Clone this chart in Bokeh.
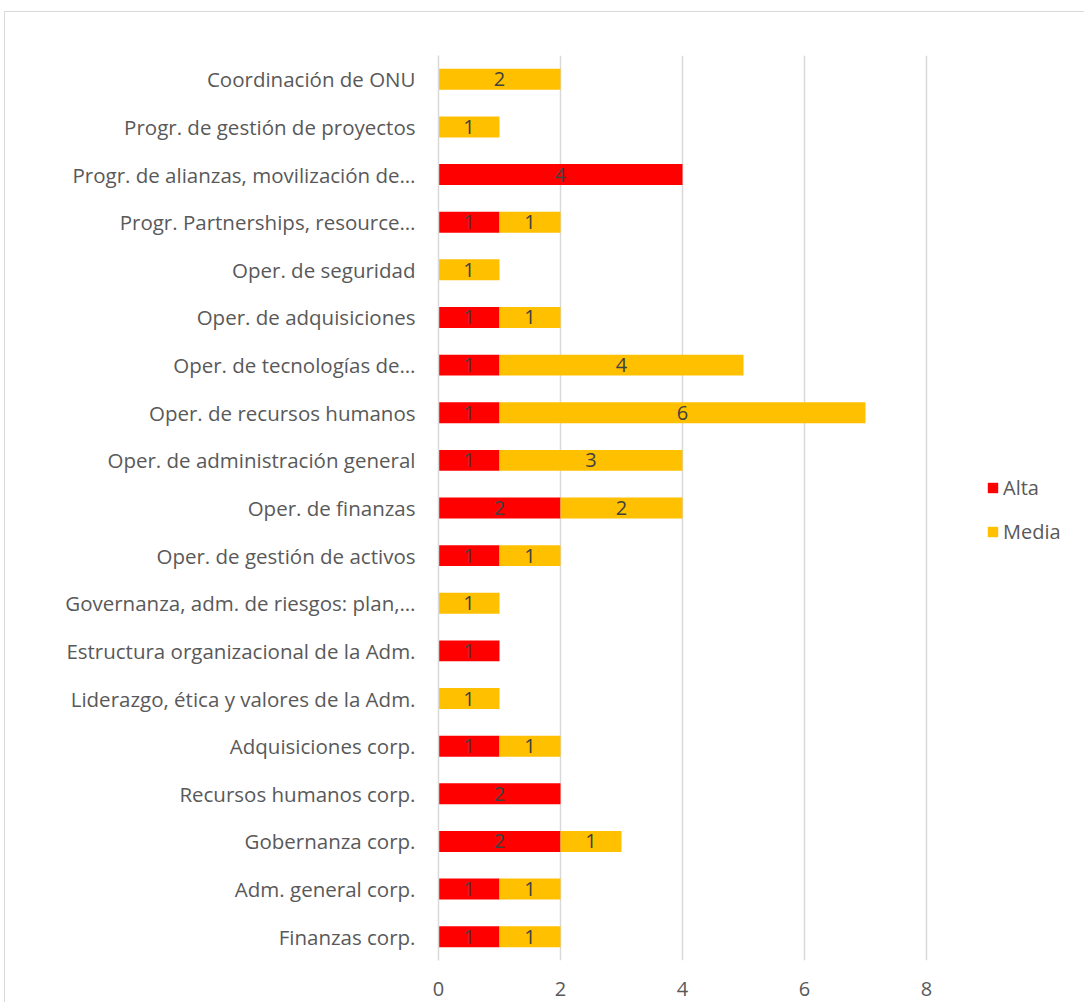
from bokeh.plotting import figure
from bokeh.models import ColumnDataSource, LabelSet, Legend, LegendItem, FixedTicker
from bokeh.core.properties import value
from bokeh.embed import file_html
from bokeh.resources import INLINE

categories = [
    "Finanzas corp.",
    "Adm. general corp.",
    "Gobernanza corp.",
    "Recursos humanos corp.",
    "Adquisiciones corp.",
    "Liderazgo, ética y valores de la Adm.",
    "Estructura organizacional de la Adm.",
    "Governanza, adm. de riesgos: plan,…",
    "Oper. de gestión de activos",
    "Oper. de finanzas",
    "Oper. de administración general",
    "Oper. de recursos humanos",
    "Oper. de tecnologías de…",
    "Oper. de adquisiciones",
    "Oper. de seguridad",
    "Progr. Partnerships, resource…",
    "Progr. de alianzas, movilización de…",
    "Progr. de gestión de proyectos",
    "Coordinación de ONU",
]
alta = [1, 1, 2, 2, 1, 0, 1, 0, 1, 2, 1, 1, 1, 1, 0, 1, 4, 0, 0]
media = [1, 1, 1, 0, 1, 1, 0, 1, 1, 2, 3, 6, 4, 1, 1, 1, 0, 1, 2]
x_ticks = [0, 2, 4, 6, 8]

FONT = "Open Sans"
RED = "#FF0000"
YEL = "#FFC000"

W, H = 1080, 991
BL, BT, BB = 433, 43, 43
PLOT_W = 488  # pixels spanned by 0..8
frame_w = W - BL
x_end = 8 * frame_w / PLOT_W

src = ColumnDataSource(dict(cat=categories, Alta=alta, Media=media))

p = figure(y_range=categories, x_range=(0, x_end), width=W, height=H,
           output_backend="svg", toolbar_location=None,
           min_border_left=BL, min_border_right=0, min_border_top=BT, min_border_bottom=BB)
p.margin = (11, 0, 0, 4)
p.styles = {"border-top": "1px solid #D9D9D9", "border-left": "1px solid #D9D9D9"}
p.outline_line_color = None

rs = p.hbar_stack(["Alta", "Media"], y="cat", height=0.44, color=[RED, YEL],
                  source=src, line_color=None)

# data labels
lx, ly, lt = [], [], []
for c, a, m in zip(categories, alta, media):
    if a:
        lx.append(a / 2); ly.append(c); lt.append(str(a))
    if m:
        lx.append(a + m / 2); ly.append(c); lt.append(str(m))
lsrc = ColumnDataSource(dict(x=lx, y=ly, t=lt))
p.add_layout(LabelSet(x="x", y="y", text="t", source=lsrc, text_align="center",
                      text_baseline="middle", text_font=value(FONT), text_font_size="20px",
                      text_color="#404040"))

p.xgrid.ticker = FixedTicker(ticks=x_ticks)
p.xgrid.grid_line_color = "#D9D9D9"
p.xgrid.grid_line_width = 1.5
p.ygrid.grid_line_color = None

p.xaxis.ticker = FixedTicker(ticks=x_ticks)
p.xaxis.axis_line_color = None
p.xaxis.major_tick_line_color = None
p.xaxis.minor_tick_line_color = None
p.xaxis.major_label_text_font = FONT
p.xaxis.major_label_text_font_size = "20px"
p.xaxis.major_label_text_color = "#595959"
p.xaxis.major_label_standoff = 15

p.yaxis.axis_line_color = "#D9D9D9"
p.yaxis.axis_line_width = 1.5
p.yaxis.major_tick_line_color = None
p.yaxis.minor_tick_line_color = None
p.yaxis.major_label_text_font = FONT
p.yaxis.major_label_text_font_size = "20.5px"
p.yaxis.major_label_text_color = "#595959"
p.yaxis.major_label_standoff = 17

legend = Legend(items=[LegendItem(label="Alta", renderers=[rs[0]]),
                       LegendItem(label="Media", renderers=[rs[1]])],
                location=(548, 415), border_line_color=None, background_fill_alpha=0,
                label_text_font=FONT, label_text_font_size="20px", label_text_color="#595959",
                glyph_width=13, glyph_height=13, spacing=17, padding=0, margin=0,
                label_standoff=4)
p.add_layout(legend, "center")

open("out.html", "w").write(file_html(p, INLINE))
